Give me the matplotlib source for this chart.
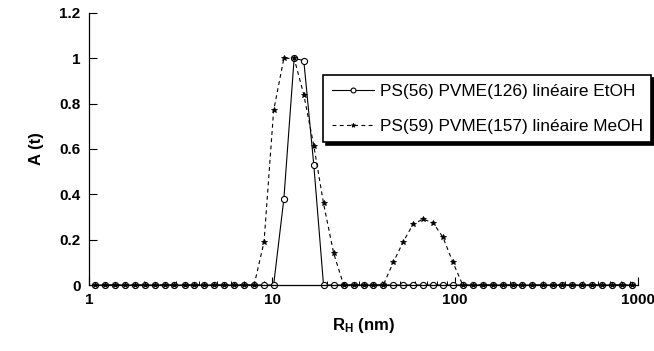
import matplotlib
matplotlib.use("Agg")
import matplotlib.pyplot as plt
from matplotlib.ticker import FixedLocator, LogLocator, NullFormatter

plt.rcParams['font.family'] = ['Liberation Sans', 'DejaVu Sans']
plt.rcParams['mathtext.fontset'] = 'custom'
plt.rcParams['mathtext.rm'] = 'Liberation Sans'
plt.rcParams['mathtext.bf'] = 'Liberation Sans:bold'

# Rayon hydrodynamique (nm)
r_h = [1.08, 1.22, 1.39, 1.57, 1.78, 2.02, 2.29, 2.59, 2.93, 3.33,
       3.77, 4.27, 4.84, 5.48, 6.21, 7.04, 7.98, 9.04, 10.2, 11.6,
       13.2, 14.9, 16.9, 19.1, 21.7, 24.6, 27.9, 31.6, 35.8, 40.5,
       45.9, 52.0, 59.0, 66.8, 75.7, 85.8, 97.2, 110, 125, 142,
       160, 182, 206, 233, 264, 300, 340, 385, 436, 494,
       560, 634, 719, 815, 923]

# Distribution A(t)
a_etoh = [0, 0, 0, 0, 0, 0, 0, 0, 0, 0,
          0, 0, 0, 0, 0, 0, 0, 0, 0, 0.38,
          1.0, 0.99, 0.53, 0, 0, 0, 0, 0, 0, 0,
          0, 0, 0, 0, 0, 0, 0, 0, 0, 0,
          0, 0, 0, 0, 0, 0, 0, 0, 0, 0,
          0, 0, 0, 0, 0]
a_meoh = [0, 0, 0, 0, 0, 0, 0, 0, 0, 0,
          0, 0, 0, 0, 0, 0, 0, 0.19, 0.77, 1.0,
          1.0, 0.84, 0.615, 0.36, 0.14, 0, 0, 0, 0, 0,
          0.10, 0.19, 0.27, 0.29, 0.275, 0.21, 0.10, 0, 0, 0,
          0, 0, 0, 0, 0, 0, 0, 0, 0, 0,
          0, 0, 0, 0, 0]

label_etoh = "PS(56) PVME(126) linéaire EtOH"
label_meoh = "PS(59) PVME(157) linéaire MeOH"
y_ticks = [0, 0.2, 0.4, 0.6, 0.8, 1, 1.2]
x_ticks = [1, 10, 100, 1000]

fig = plt.figure(figsize=(6.54, 3.51), dpi=100)
ax = fig.add_axes([0.136, 0.188, 0.840, 0.775])

ax.plot(r_h, a_etoh, color='black', linestyle='-', linewidth=0.8,
        marker='o', markersize=4.4, markerfacecolor='white',
        markeredgewidth=0.8, label=label_etoh, clip_on=False)
ax.plot(r_h, a_meoh, color='black', linestyle=(0, (3.5, 3)), linewidth=0.8,
        marker='*', markersize=4.0, markeredgewidth=0.6,
        label=label_meoh, clip_on=False)

ax.set_xscale('log')
ax.set_xlim(1, 1000)
ax.set_ylim(0, 1.2)

ax.xaxis.set_major_locator(FixedLocator(x_ticks))
ax.set_xticklabels([str(v) for v in x_ticks])
ax.xaxis.set_minor_locator(LogLocator(base=10, subs=range(2, 10)))
ax.xaxis.set_minor_formatter(NullFormatter())
ax.set_yticks(y_ticks)
ax.set_yticklabels(['%g' % v for v in y_ticks])

ax.spines['top'].set_visible(False)
ax.spines['right'].set_visible(False)
for s in ['left', 'bottom']:
    ax.spines[s].set_linewidth(0.9)

ax.tick_params(axis='both', which='major', direction='in', length=5.5,
               width=0.8, labelsize=11, pad=6)
ax.tick_params(axis='x', which='minor', direction='in', length=3, width=0.7)
for lab in ax.get_xticklabels() + ax.get_yticklabels():
    lab.set_fontweight('bold')

ax.set_xlabel(r'$\mathbf{R_H}$ (nm)', fontsize=12, fontweight='bold', labelpad=6)
ax.set_ylabel('A (t)', fontsize=12, fontweight='bold', labelpad=11)

leg = ax.legend(loc='upper left', bbox_to_anchor=(323 / 654, 1 - 75 / 351),
                bbox_transform=fig.transFigure, fontsize=12.4, frameon=True,
                fancybox=False, edgecolor='black', framealpha=1,
                shadow={'color': 'black', 'alpha': 1}, borderaxespad=0,
                handlelength=2.45, handletextpad=0.35, labelspacing=1.15,
                borderpad=0.5, markerscale=0.8)
leg.get_frame().set_linewidth(1.2)

plt.savefig('out.png', dpi=100)
